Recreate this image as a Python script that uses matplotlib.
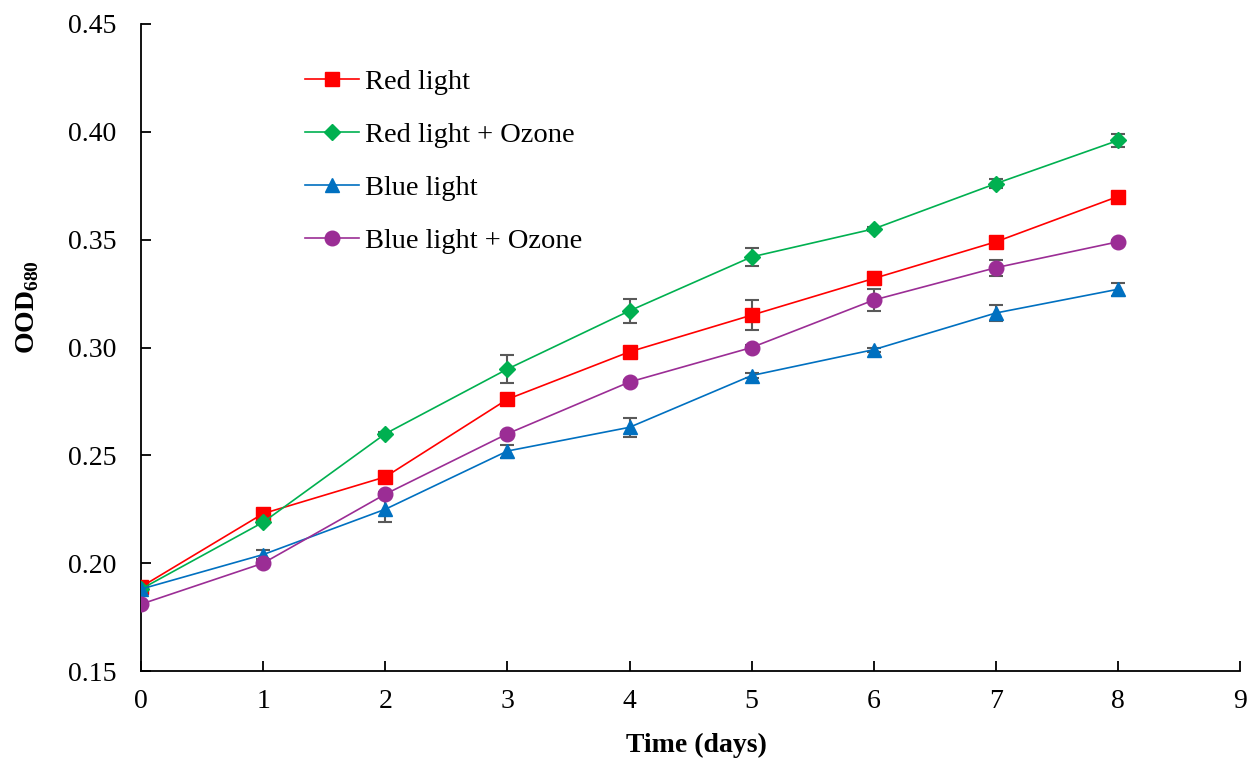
import matplotlib
matplotlib.use('Agg')
import matplotlib.pyplot as plt

plt.rcParams['font.family'] = 'Liberation Serif'
plt.rcParams['mathtext.fontset'] = 'custom'
plt.rcParams['mathtext.rm'] = 'Liberation Serif'
plt.rcParams['mathtext.bf'] = 'Liberation Serif:bold'

# Dane
dni = [0, 1, 2, 3, 4, 5, 6, 7, 8]

red = [0.189, 0.223, 0.240, 0.276, 0.298, 0.315, 0.332, 0.349, 0.370]
red_err = [0.001, 0.002, 0.001, 0.001, 0.001, 0.007, 0.003, 0.001, 0.001]

red_oz = [0.188, 0.219, 0.260, 0.290, 0.317, 0.342, 0.355, 0.376, 0.396]
red_oz_err = [0.001, 0.001, 0.001, 0.0065, 0.0055, 0.004, 0.001, 0.002, 0.003]

blue = [0.188, 0.204, 0.225, 0.252, 0.263, 0.287, 0.299, 0.316, 0.327]
blue_err = [0.001, 0.002, 0.006, 0.003, 0.0045, 0.001, 0.001, 0.0035, 0.003]

blue_oz = [0.181, 0.200, 0.232, 0.260, 0.284, 0.300, 0.322, 0.337, 0.349]
blue_oz_err = [0.001, 0.001, 0.001, 0.001, 0.001, 0.001, 0.005, 0.0037, 0.001]

serie = [
    ('Red light', red, red_err, '#FF0000', 's', 10),
    ('Red light + Ozone', red_oz, red_oz_err, '#00B050', 'D', 8.5),
    ('Blue light', blue, blue_err, '#0070C0', '^', 10.5),
    ('Blue light + Ozone', blue_oz, blue_oz_err, '#9B2D95', 'o', 10.5),
]

fig = plt.figure(figsize=(12.55, 7.64), dpi=100)
ax = fig.add_axes([0.1124, 0.1217, 0.8757, 0.8469])

for nazwa, y, err, kolor, marker, ms in serie:
    ax.errorbar(dni, y, yerr=err, fmt='none', ecolor='#595959', elinewidth=1.5,
                capsize=5, capthick=1.5, zorder=2)
    ax.plot(dni, y, color=kolor, marker=marker, markersize=ms, linewidth=1.2,
            label=nazwa, zorder=3)

ax.set_xlim(0, 9)
ax.set_ylim(0.15, 0.45)
ax.set_xticks(range(0, 10))
ax.set_yticks([0.15, 0.20, 0.25, 0.30, 0.35, 0.40, 0.45])
ax.set_yticklabels(['%.2f' % v for v in ax.get_yticks()])

for s in ['top', 'right']:
    ax.spines[s].set_visible(False)
for s in ['left', 'bottom']:
    ax.spines[s].set_linewidth(1.3)

ax.tick_params(direction='in', length=7, width=1.3, labelsize=20)
ax.tick_params(axis='x', pad=13)
ax.tick_params(axis='y', pad=18)

ax.set_xlabel('Time (days)', fontsize=20, fontweight='bold')
ax.xaxis.set_label_coords(0.505, -0.095)
ax.set_ylabel(r'OOD$_{\mathbf{680}}$', fontsize=20, fontweight='bold')
ax.yaxis.set_label_coords(-0.091, 0.563)

ax.legend(loc='upper left', bbox_to_anchor=(0.139, 0.948), frameon=False, fontsize=20.5,
          labelspacing=0.95, handlelength=1.9, handletextpad=0.2, borderaxespad=0)

fig.savefig('out.png', dpi=100)
